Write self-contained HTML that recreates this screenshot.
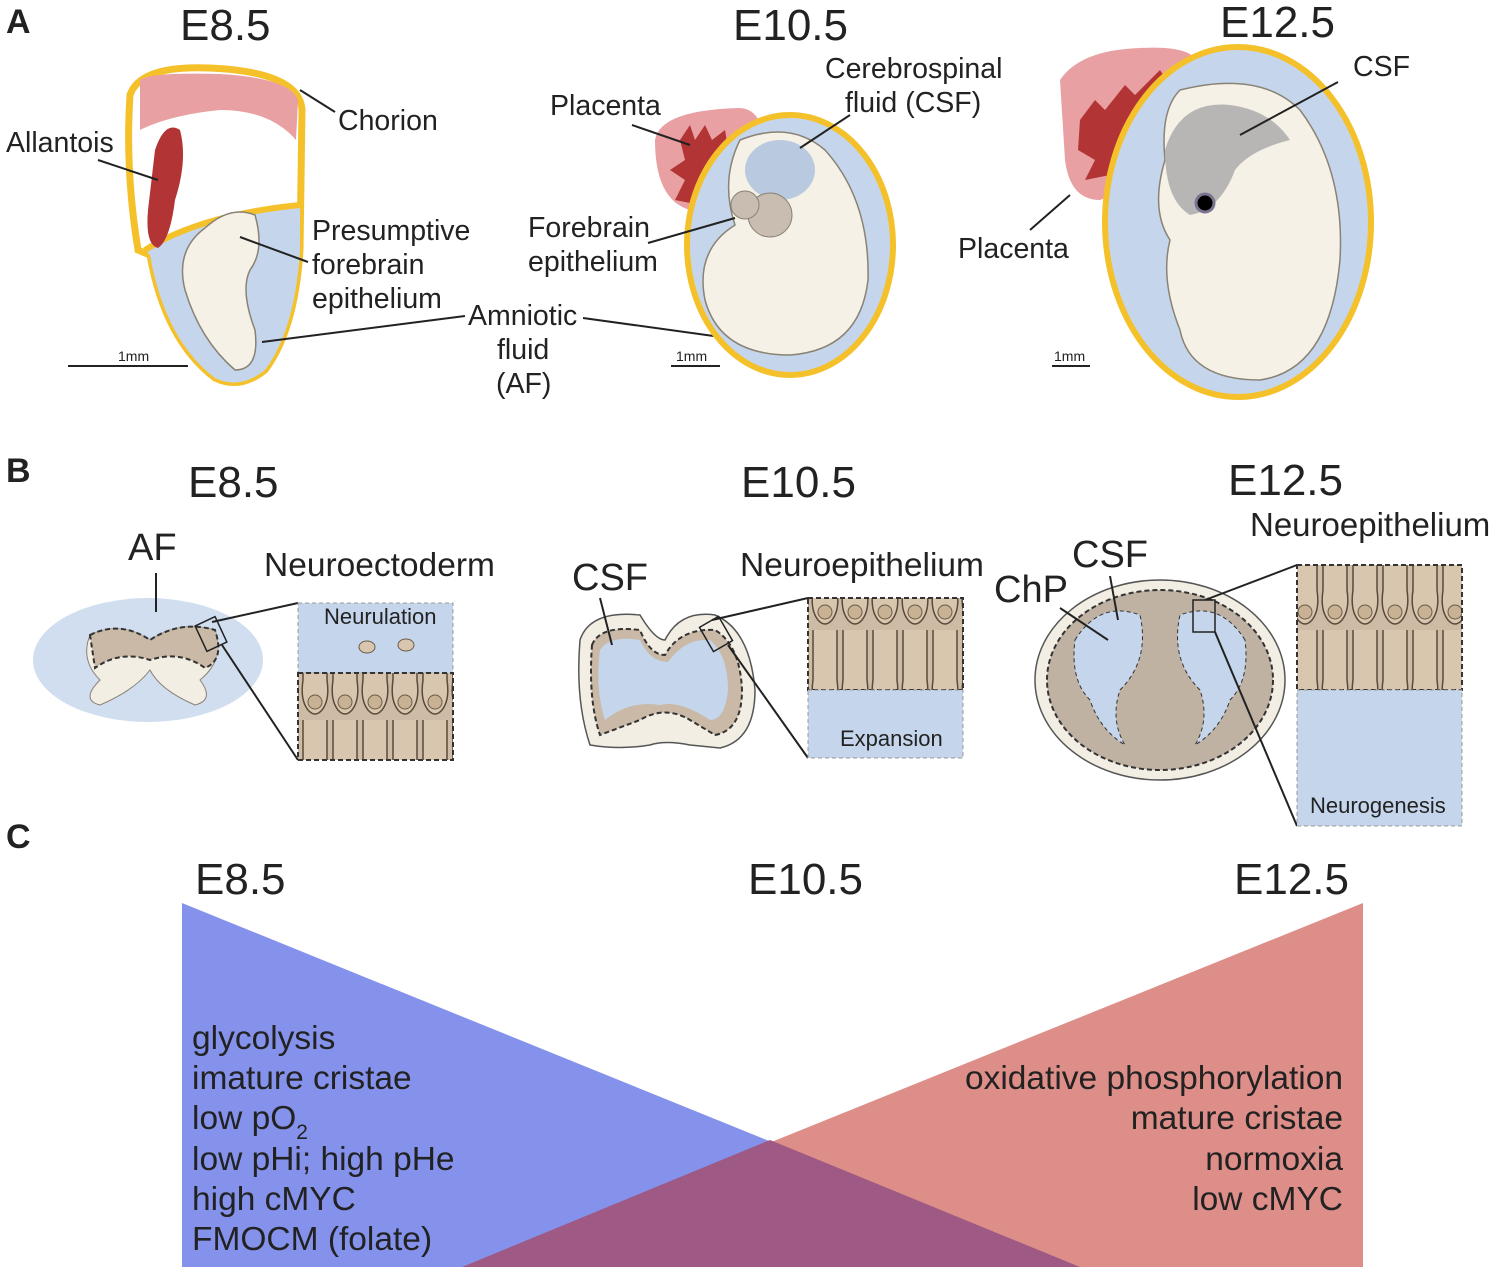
<!DOCTYPE html>
<html><head><meta charset="utf-8"><style>
body{margin:0;background:#fff}
svg text{font-family:"Liberation Sans",Arial,sans-serif;fill:#222}
</style></head><body>
<svg width="1499" height="1271" viewBox="0 0 1499 1271" xmlns="http://www.w3.org/2000/svg">
<defs>
<pattern id="cells" width="30" height="90" patternUnits="userSpaceOnUse">
<rect width="30" height="90" fill="#cdbba5"/>
<path d="M3 0 V50 Q0 70 8 80 Q15 88 22 80 Q30 70 27 50 V0" fill="#d8c6ae" stroke="#5a4a3a" stroke-width="1.5"/>
<circle cx="15" cy="72" r="7" fill="#c9b293" stroke="#6a5a48"/>
</pattern>
</defs>
<text x="6" y="33" font-size="34" font-weight="bold">A</text>
<text x="6" y="482" font-size="34" font-weight="bold">B</text>
<text x="6" y="848" font-size="34" font-weight="bold">C</text>

<text x="180" y="40" font-size="44">E8.5</text>
<text x="733" y="40" font-size="44">E10.5</text>
<text x="1220" y="37" font-size="44">E12.5</text>

<!-- E8.5 embryo A -->
<path d="M130 95 Q140 65 210 68 Q300 72 302 110 L300 250 Q295 330 265 370 Q240 390 215 378 Q165 340 150 255 L138 250 Q125 170 130 95Z" fill="#fff" stroke="#f4c12b" stroke-width="7"/>
<path d="M145 250 Q200 215 300 205 L300 250 Q295 330 265 370 Q240 390 215 378 Q165 340 150 255Z" fill="#c5d6ec"/>
<path d="M145 250 Q200 215 300 205" fill="none" stroke="#f4c12b" stroke-width="6"/>
<path d="M205 228 Q230 205 255 215 Q265 250 250 270 Q240 290 255 330 Q260 370 235 370 Q200 340 185 290 Q175 250 205 228Z" fill="#f5f1e6" stroke="#8a8275" stroke-width="1.5"/>
<path d="M140 80 Q150 72 220 74 Q290 78 298 100 L296 140 Q270 110 220 110 Q170 115 140 130Z" fill="#e8a0a2"/>
<path d="M155 150 Q165 120 180 130 Q188 160 175 200 Q170 240 158 248 Q145 245 148 210Z" fill="#b23434"/>
<line x1="300" y1="90" x2="335" y2="112" stroke="#222" stroke-width="2"/>
<text x="338" y="130" font-size="28.5">Chorion</text>
<text x="6" y="152" font-size="28.5">Allantois</text>
<line x1="98" y1="160" x2="158" y2="180" stroke="#222" stroke-width="2"/>
<text x="312" y="240" font-size="28.5">Presumptive</text>
<text x="312" y="274" font-size="28.5">forebrain</text>
<text x="312" y="308" font-size="28.5">epithelium</text>
<line x1="240" y1="237" x2="308" y2="262" stroke="#222" stroke-width="2"/>
<line x1="68" y1="366" x2="188" y2="366" stroke="#222" stroke-width="2"/>
<text x="118" y="361" font-size="14">1mm</text>
<text x="468" y="325" font-size="28.5">Amniotic</text>
<text x="497" y="359" font-size="28.5">fluid</text>
<text x="496" y="393" font-size="28.5">(AF)</text>
<line x1="262" y1="342" x2="465" y2="316" stroke="#222" stroke-width="2"/>
<line x1="583" y1="318" x2="728" y2="338" stroke="#222" stroke-width="2"/>

<!-- E10.5 -->
<path d="M655 140 Q660 110 740 108 Q770 110 762 170 Q740 215 690 210 Q655 200 655 140Z" fill="#e8a0a2"/>
<path d="M680 140 L690 125 L695 140 L705 125 L712 140 L725 130 L730 160 Q720 190 700 205 L675 200 L685 180 L670 170 L685 160Z" fill="#b23434"/>
<ellipse cx="790" cy="245" rx="103" ry="130" fill="#c5d6ec" stroke="#f4c12b" stroke-width="6"/>
<path d="M740 140 Q790 120 825 150 Q870 200 868 280 Q860 350 790 355 Q720 355 705 300 Q695 250 735 225 Q720 180 740 140Z" fill="#f5f1e6" stroke="#8a8275" stroke-width="1.5"/>
<ellipse cx="780" cy="170" rx="35" ry="30" fill="#aac0de" opacity="0.8"/>
<circle cx="770" cy="215" r="22" fill="#c8bdb0" stroke="#8a8275"/>
<circle cx="745" cy="205" r="14" fill="#c8bdb0" stroke="#8a8275"/>
<text x="550" y="115" font-size="28.5">Placenta</text>
<line x1="632" y1="125" x2="690" y2="145" stroke="#222" stroke-width="2"/>
<text x="825" y="78" font-size="28.5">Cerebrospinal</text>
<text x="845" y="112" font-size="28.5">fluid (CSF)</text>
<line x1="850" y1="115" x2="800" y2="148" stroke="#222" stroke-width="2"/>
<text x="528" y="237" font-size="28.5">Forebrain</text>
<text x="528" y="271" font-size="28.5">epithelium</text>
<line x1="648" y1="243" x2="735" y2="218" stroke="#222" stroke-width="2"/>
<line x1="671" y1="366" x2="720" y2="366" stroke="#222" stroke-width="2"/>
<text x="676" y="361" font-size="14">1mm</text>

<!-- E12.5 -->
<path d="M1060 80 Q1080 50 1140 48 Q1195 45 1198 65 L1160 130 Q1130 190 1100 200 Q1070 200 1065 160Z" fill="#e8a0a2"/>
<path d="M1080 120 L1095 100 L1105 110 L1125 85 L1135 95 L1160 70 L1170 85 L1150 110 L1110 175 L1085 180 L1095 160 L1078 150Z" fill="#b23434"/>
<ellipse cx="1238" cy="222" rx="133" ry="175" fill="#c5d6ec" stroke="#f4c12b" stroke-width="6"/>
<path d="M1180 90 Q1260 70 1300 110 Q1345 170 1340 260 Q1330 370 1260 380 Q1190 380 1180 330 Q1160 280 1170 240 Q1150 210 1165 160 Q1160 110 1180 90Z" fill="#f5f1e6" stroke="#8a8275" stroke-width="1.5"/>
<path d="M1165 150 Q1180 100 1230 105 Q1270 110 1290 140 Q1250 150 1235 170 Q1220 210 1190 215 Q1165 200 1165 150Z" fill="#b8b6b5"/>
<circle cx="1205" cy="203" r="9" fill="#000" stroke="#7a7490" stroke-width="3"/>
<text x="1353" y="76" font-size="28.5">CSF</text>
<line x1="1338" y1="82" x2="1240" y2="135" stroke="#222" stroke-width="2"/>
<text x="958" y="258" font-size="28.5">Placenta</text>
<line x1="1030" y1="230" x2="1070" y2="195" stroke="#222" stroke-width="2"/>
<line x1="1052" y1="366" x2="1090" y2="366" stroke="#222" stroke-width="2"/>
<text x="1054" y="361" font-size="14">1mm</text>

<!-- B titles -->
<text x="188" y="497" font-size="44">E8.5</text>
<text x="741" y="497" font-size="44">E10.5</text>
<text x="1228" y="495" font-size="44">E12.5</text>

<!-- B E8.5 -->
<ellipse cx="148" cy="660" rx="115" ry="62" fill="#c5d6ec" opacity="0.8"/>
<path d="M90 635 Q120 620 150 640 Q180 620 215 630 Q225 660 200 680 Q215 700 195 705 Q160 690 150 670 Q135 690 100 705 Q80 700 100 680 Q80 660 90 635Z" fill="#f2eee4" stroke="#8a8275"/>
<path d="M90 635 Q120 620 150 640 Q180 620 215 630 Q225 660 205 668 Q180 650 150 660 Q120 650 95 668Z" fill="#c9b9a6" stroke="#333" stroke-dasharray="5,3" stroke-width="2"/>
<text x="128" y="560" font-size="38">AF</text>
<line x1="156" y1="573" x2="156" y2="612" stroke="#222" stroke-width="2"/>
<text x="264" y="576" font-size="33.5">Neuroectoderm</text>
<rect x="200" y="620" width="22" height="28" fill="none" stroke="#222" stroke-width="1.5" transform="rotate(-25 211 634)"/>
<line x1="212" y1="622" x2="298" y2="603" stroke="#222" stroke-width="2"/>
<line x1="222" y1="645" x2="298" y2="760" stroke="#222" stroke-width="2"/>
<rect x="298" y="603" width="155" height="70" fill="#c5d6ec" stroke="#999" stroke-dasharray="4,3"/>
<rect x="298" y="673" width="155" height="87" fill="url(#cells)" stroke="#333" stroke-dasharray="5,3" stroke-width="2"/>
<text x="324" y="624" font-size="22">Neurulation</text>
<ellipse cx="367" cy="647" rx="8" ry="6" fill="#d8c6ae" stroke="#6a5a48"/>
<ellipse cx="406" cy="645" rx="8" ry="6" fill="#d8c6ae" stroke="#6a5a48"/>

<!-- B E10.5 -->
<path d="M580 640 Q590 610 640 615 Q655 640 665 640 Q680 610 715 615 Q750 630 755 690 Q755 740 720 748 L690 745 Q665 740 650 745 Q620 750 590 745 Q575 700 580 640Z" fill="#f2eee4" stroke="#555" stroke-width="1.5"/>
<path d="M592 645 Q600 625 640 630 Q650 655 665 655 Q680 628 715 630 Q740 645 742 690 Q742 730 715 735 L690 720 Q665 705 640 720 L600 735 Q588 700 592 645Z" fill="#c9b9a6" stroke="#333" stroke-dasharray="5,3" stroke-width="2"/>
<path d="M600 650 Q610 635 640 640 Q650 662 668 662 Q685 638 710 640 Q728 655 728 690 Q725 720 710 720 Q680 700 660 705 Q630 700 605 720 Q595 690 600 650Z" fill="#c5d6ec"/>
<text x="572" y="590" font-size="38">CSF</text>
<line x1="600" y1="598" x2="612" y2="645" stroke="#222" stroke-width="2"/>
<text x="740" y="576" font-size="33.5">Neuroepithelium</text>
<rect x="705" y="620" width="22" height="28" fill="none" stroke="#222" stroke-width="1.5" transform="rotate(-30 716 634)"/>
<line x1="712" y1="620" x2="808" y2="598" stroke="#222" stroke-width="2"/>
<line x1="728" y1="645" x2="808" y2="758" stroke="#222" stroke-width="2"/>
<rect x="808" y="598" width="155" height="92" fill="url(#cells)" stroke="#333" stroke-dasharray="5,3" stroke-width="2"/>
<rect x="808" y="690" width="155" height="68" fill="#c5d6ec" stroke="#999" stroke-dasharray="4,3"/>
<text x="840" y="746" font-size="22">Expansion</text>

<!-- B E12.5 -->
<ellipse cx="1160" cy="680" rx="125" ry="100" fill="#f2eee4" stroke="#555" stroke-width="1.5"/>
<ellipse cx="1160" cy="680" rx="113" ry="90" fill="#bfb2a2" stroke="#333" stroke-dasharray="5,3" stroke-width="2"/>
<path d="M1075 640 Q1100 600 1140 615 Q1150 660 1120 690 Q1110 720 1125 745 Q1100 730 1090 700 Q1070 680 1075 640Z" fill="#c5d6ec" stroke="#333" stroke-dasharray="4,3"/>
<path d="M1245 640 Q1220 600 1180 615 Q1170 660 1200 690 Q1210 720 1195 745 Q1220 730 1230 700 Q1250 680 1245 640Z" fill="#c5d6ec" stroke="#333" stroke-dasharray="4,3"/>
<text x="1072" y="567" font-size="38">CSF</text>
<text x="994" y="602" font-size="38">ChP</text>
<line x1="1110" y1="576" x2="1118" y2="620" stroke="#222" stroke-width="2"/>
<line x1="1060" y1="608" x2="1108" y2="640" stroke="#222" stroke-width="2"/>
<text x="1250" y="536" font-size="33">Neuroepithelium</text>
<rect x="1193" y="600" width="22" height="32" fill="none" stroke="#222" stroke-width="1.5"/>
<line x1="1205" y1="600" x2="1297" y2="565" stroke="#222" stroke-width="2"/>
<line x1="1215" y1="632" x2="1297" y2="826" stroke="#222" stroke-width="2"/>
<rect x="1297" y="565" width="165" height="125" fill="url(#cells)" stroke="#333" stroke-dasharray="5,3" stroke-width="2"/>
<rect x="1297" y="690" width="165" height="136" fill="#c5d6ec" stroke="#999" stroke-dasharray="4,3"/>
<text x="1310" y="813" font-size="22">Neurogenesis</text>

<!-- C -->
<text x="195" y="894" font-size="44">E8.5</text>
<text x="748" y="894" font-size="44">E10.5</text>
<text x="1234" y="894" font-size="44">E12.5</text>
<polygon points="182,903 182,1267 1080,1267" fill="#8592ec"/>
<polygon points="1363,903 1363,1267 462,1267" fill="#de8e88"/>
<polygon points="770,1140 1080,1267 462,1267" fill="#9e5a85"/>
<g font-size="33.5">
<text x="192" y="1049">glycolysis</text>
<text x="192" y="1089">imature cristae</text>
<text x="192" y="1129">low pO<tspan font-size="21" dy="10">2</tspan></text>
<text x="192" y="1170">low pHi; high pHe</text>
<text x="192" y="1210">high cMYC</text>
<text x="192" y="1250">FMOCM (folate)</text>
<text x="1343" y="1089" text-anchor="end">oxidative phosphorylation</text>
<text x="1343" y="1129" text-anchor="end">mature cristae</text>
<text x="1343" y="1170" text-anchor="end">normoxia</text>
<text x="1343" y="1210" text-anchor="end">low cMYC</text>
</g>
</svg>
</body></html>
